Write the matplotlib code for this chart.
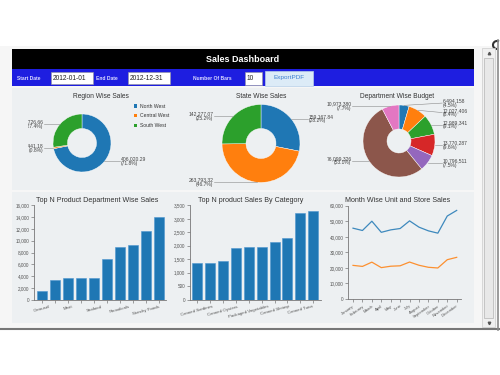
import numpy as np
import matplotlib
matplotlib.use("Agg")
from matplotlib import pyplot as plt
from matplotlib import patches as mpatches
from matplotlib import ticker as mticker

plt.rcParams["font.family"] = ["Liberation Sans", "DejaVu Sans"]

W, H = 500, 375  # canvas in pixels

# ---- data ----
region_names = ["North West", "Central West", "South West"]
region_sales = [406020.29, 4441.18, 154726.66]
region_labels = ["406,020.29\n(71.8%)", "4,441.18\n(0.8%)", "154,726.66\n(27.4%)"]

state_sales = [159167.84, 263793.32, 142277.07]
state_labels = ["159,167.84\n(28.2%)", "263,793.32\n(46.7%)", "142,277.07\n(25.2%)"]

dept_budget = [6494158, 12027406, 12989341, 13770287, 10796511, 76099326, 10973380]
dept_labels = ["6,494,158\n(4.5%)", "12,027,406\n(8.4%)", "12,989,341\n(9.1%)",
               "13,770,287\n(9.6%)", "10,796,511\n(7.5%)", "76,099,326\n(53.1%)",
               "10,973,380\n(7.7%)"]

dept_ticks = ["Carousel", "", "Meat", "", "Seafood", "", "Periodicals", "", "Starchy Foods", ""]
dept_sales = [1420, 3290, 3630, 3680, 3680, 6850, 8980, 9220, 11700, 14020]

cat_ticks = ["Canned Sardines", "", "Canned Oysters", "", "Packaged Vegetables", "",
             "Canned Shrimp", "", "Canned Tuna", ""]
cat_sales = [1360, 1360, 1440, 1900, 1960, 1960, 2150, 2300, 3200, 3300]

months = ["January", "February", "March", "April", "May", "June", "July",
          "August", "September", "October", "November", "December"]
store_sales = [45539, 44058, 50029, 42878, 44456, 45331, 50246, 46199, 43825, 42342, 53363, 56965]
unit_sales = [21628, 20957, 23706, 20179, 21081, 21350, 23763, 21697, 20388, 19958, 25270, 26796]

c10 = ["#1f77b4", "#ff7f0e", "#2ca02c", "#d62728", "#9467bd", "#8c564b", "#e377c2"]
panel_col = "#edf0f2"

fig = plt.figure(figsize=(5, 3.75), dpi=100)
bg = fig.add_axes([0, 0, 1, 1])
bg.set_xlim(0, W)
bg.set_ylim(H, 0)
bg.axis("off")


def rect(x0, y0, x1, y1, **kw):
    bg.add_patch(mpatches.Rectangle((x0, y0), x1 - x0, y1 - y0, **kw))


def px_axes(x0, y0, x1, y1):
    return fig.add_axes([x0 / W, 1 - y1 / H, (x1 - x0) / W, (y1 - y0) / H])


## Frame, scrollbar
rect(0, 46, 497, 328, fc="#f6f6f6", ec="none")
bg.plot([0, 499], [329, 329], color="#777777", lw=1.5)
bg.plot([498, 498], [40, 330], color="#8a8a8a", lw=1.2)
bg.add_patch(mpatches.Arc((497, 45), 8, 8, theta1=90, theta2=300, color="#333", lw=1.5))
rect(482, 48, 495, 327, fc="#f0f0f0", ec="#cccccc", lw=0.5)
rect(484, 58, 493, 318, fc="#e8e8e8", ec="#b5b5b5", lw=0.5)
bg.plot([488.5], [52.5], marker="^", ms=1.8, color="#555")
bg.plot([488.5], [322.5], marker="v", ms=1.8, color="#555")

## Header
rect(12, 49, 474, 69, fc="black")
bg.text(243, 59.5, "Sales Dashboard", color="white", fontsize=6.5, fontweight="bold",
        ha="center", va="center")
rect(12, 69, 474, 86, fc="#1e1ee0")
lab_kw = dict(color="#dcdcff", fontsize=3.6, fontweight="bold", va="center")
box_kw = dict(fc="white", ec="#9a9a9a", lw=0.4)
bg.text(17, 78, "Start Date", **lab_kw)
rect(51, 71.5, 93, 84, **box_kw)
bg.text(53, 78, "2012-01-01", fontsize=4.8, va="center", color="#222")
bg.text(96, 78, "End Date", **lab_kw)
rect(128, 71.5, 170, 84, **box_kw)
bg.text(130, 78, "2012-12-31", fontsize=4.8, va="center", color="#222")
bg.text(193, 78, "Number Of Bars", **lab_kw)
rect(245, 72, 262, 84.5, **box_kw)
bg.text(247, 78.5, "10", fontsize=4.8, va="center", color="#222")
rect(265, 70.5, 313, 85.5, fc="#dcebf7", ec="#b8d0e8", lw=0.5)
bg.text(289, 78, "ExportPDF", fontsize=4.6, ha="center", va="center", color="#3d7fd0")

## Panels
rect(12, 88, 474, 190, fc=panel_col, ec="none")
rect(12, 192, 474, 323, fc=panel_col, ec="none")

title_kw = dict(ha="center", va="center", color="#333333")
bg.text(101, 97, "Region Wise Sales", fontsize=4.8, **title_kw)
bg.text(261, 97, "State Wise Sales", fontsize=4.8, **title_kw)
bg.text(397, 97, "Department Wise Budget", fontsize=4.8, **title_kw)
bg.text(97.5, 200.5, "Top N Product Department Wise Sales", fontsize=5.1, **title_kw)
bg.text(250.5, 200.5, "Top N product Sales By Category", fontsize=5.1, **title_kw)
bg.text(397.5, 200.5, "Month Wise Unit and Store Sales", fontsize=5.1, **title_kw)


def spread(ys, gap):
    # push label centres apart so that two-line labels do not collide
    order = np.argsort(ys)
    y = np.array(ys, dtype=float)[order]
    for _ in range(50):
        for i in range(len(y) - 1):
            d = y[i + 1] - y[i]
            if d < gap:
                y[i] -= (gap - d) / 2
                y[i + 1] += (gap - d) / 2
    out = np.empty(len(y))
    out[order] = y
    return out


def donut(box, cx, cy, r, r_in, values, colors, labels, k_right, k_left):
    x0, y0, x1, y1 = box
    ax = px_axes(*box)
    ax.pie(values, radius=r, center=(cx, H - cy), startangle=90, counterclock=False,
           colors=colors, wedgeprops=dict(width=r - r_in, edgecolor="white", linewidth=0.3))
    ax.set_xlim(x0, x1)
    ax.set_ylim(H - y1, H - y0)
    ax.set_aspect("auto")
    ax.axis("off")
    fracs = np.array(values) / np.sum(values)
    mids = np.radians(90 - 360 * (np.cumsum(fracs) - fracs / 2))
    px = cx + r * np.cos(mids)
    py = H - cy + r * np.sin(mids)
    sides = np.where(np.cos(mids) >= 0, 1, -1)
    ly = py.copy()
    for s in (1, -1):
        m = sides == s
        if m.sum() > 1:
            ly[m] = spread(py[m], 9.5)
    for i, lab in enumerate(labels):
        s = sides[i]
        lx = cx + s * (k_right if s > 0 else k_left) * r
        ax.plot([px[i], lx], [py[i], ly[i]], color="#8a8a8a", lw=0.4)
        ax.text(lx + s * 0.8, ly[i], lab, ha="left" if s > 0 else "right", va="center",
                fontsize=3.6, color="#444444", linespacing=0.85, clip_on=True)
    return ax


donut((28, 88, 169, 190), 82, 143, 29, 14.5, region_sales, c10[:3], region_labels, 1.3, 1.3)
donut((171, 88, 345, 190), 261, 143.5, 39, 15, state_sales, c10[:3], state_labels, 1.2, 1.2)
donut((320, 88, 474, 190), 399, 141, 36, 12, dept_budget, c10[:7], dept_labels, 1.2, 1.3)

# region legend
for i, name in enumerate(region_names):
    y = 106 + i * 9.6
    rect(133.5, y - 1.7, 137, y + 1.7, fc=c10[i], ec="none")
    bg.text(140, y, name, fontsize=3.6, va="center", color="#333333")


def style_axes(ax):
    ax.set_facecolor("none")
    for s in ("top", "right"):
        ax.spines[s].set_visible(False)
    for s in ("left", "bottom"):
        ax.spines[s].set_color("#777777")
        ax.spines[s].set_linewidth(0.6)
    ax.tick_params(axis="both", length=2, width=0.5, color="#777777", labelcolor="#555555", pad=1.5)
    ax.tick_params(axis="y", labelsize=3.3)
    ax.yaxis.set_major_formatter(mticker.StrMethodFormatter("{x:,.0f}"))


## Top N product department wise sales
ax1 = px_axes(34, 205.3, 166, 299.7)
style_axes(ax1)
ax1.bar(range(len(dept_sales)), dept_sales, width=0.77, color="#1f77b4", edgecolor="#4f95cf", linewidth=0.4)
ax1.set_xlim(-0.6, 9.55)
ax1.set_ylim(0, 16000)
ax1.set_yticks(range(0, 16001, 2000))
ax1.set_xticks(range(len(dept_sales)))
ax1.set_xticklabels(dept_ticks, rotation=15, fontsize=3.2)

## Top N product sales by category
ax2 = px_axes(190, 205.3, 321, 299.7)
style_axes(ax2)
ax2.bar(range(len(cat_sales)), cat_sales, width=0.77, color="#1f77b4", edgecolor="#4f95cf", linewidth=0.4)
ax2.set_xlim(-0.55, 9.6)
ax2.set_ylim(0, 3500)
ax2.set_yticks(range(0, 3501, 500))
ax2.set_xticks(range(len(cat_sales)))
ax2.set_xticklabels(cat_ticks, rotation=15, fontsize=3.2)

## Month wise unit and store sales
ax3 = px_axes(348.3, 205.7, 461.4, 299)
style_axes(ax3)
ax3.plot(range(12), store_sales, color="#1f77b4", lw=0.9, alpha=0.85)
ax3.plot(range(12), unit_sales, color="#ff7f0e", lw=0.9, alpha=0.85)
ax3.set_xlim(-0.5, 11.5)
ax3.set_ylim(0, 60000)
ax3.set_yticks(range(0, 60001, 10000))
ax3.set_xticks(range(12))
ax3.set_xticklabels(months, rotation=35, ha="right", rotation_mode="anchor", fontsize=3.0)

fig.savefig("out.png", dpi=100)
